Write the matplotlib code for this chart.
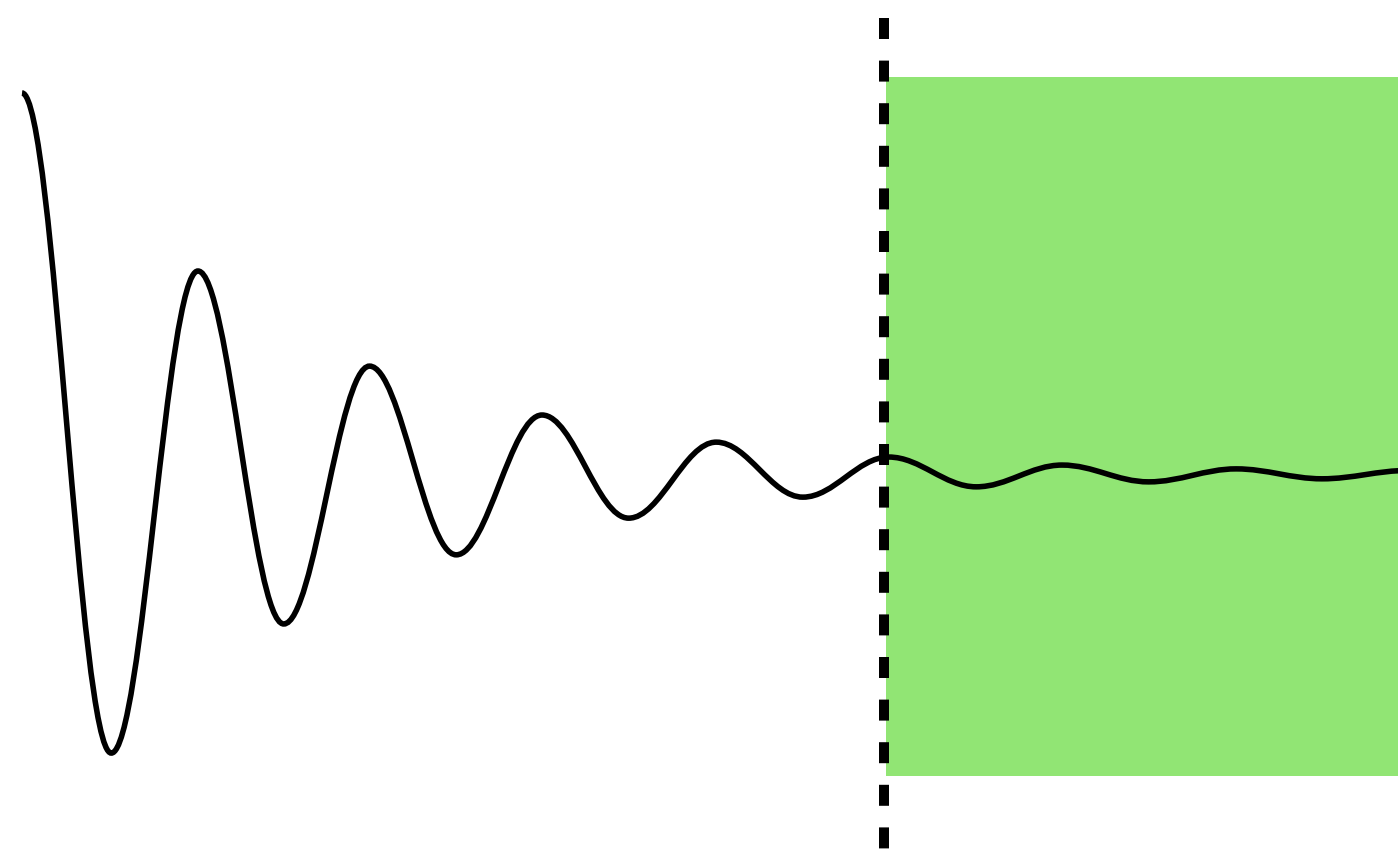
import matplotlib.pyplot as plt
from matplotlib.path import Path
from matplotlib.patches import PathPatch, Rectangle

# extrema of the damped oscillation (time in half-periods, amplitude)
t_ext = [0, 1.03, 2.03, 3.02, 4.01, 5.01, 6.0, 7.0, 8.01, 9.01, 10.0,
         11.01, 12.0, 13.0, 14.01, 15.0, 16.0]
y_ext = [1.00, -0.728, 0.534, -0.390, 0.285, -0.209, 0.157, -0.113,
         0.086, -0.058, 0.047, -0.031, 0.026, -0.018, 0.016, -0.010, 0.012]

t_mark = 9.946          # dashed marker
region_t = [9.969, 16.5]
region_y = [-0.788, 1.042]
mark_y = [1.196, -0.979]

fig = plt.figure(figsize=(13.98, 8.52), dpi=100)
ax = fig.add_axes([0, 0, 1, 1])
ax.set_xlim(-0.254, 15.877)
ax.set_ylim(-0.987, 1.2435)
ax.axis('off')

# green region
ax.add_patch(Rectangle((region_t[0], region_y[0]), region_t[1] - region_t[0],
                       region_y[1] - region_y[0], facecolor='#91e574',
                       edgecolor='none', zorder=1))

# dashed vertical line
ax.plot([t_mark, t_mark], mark_y, color='black', lw=7.2,
        dashes=(2.1, 2.16), solid_capstyle='butt', dash_capstyle='butt', zorder=2)

# smooth curve through the extrema (horizontal tangents at each one)
verts = [(t_ext[0], y_ext[0])]
codes = [Path.MOVETO]
for i in range(len(t_ext) - 1):
    k = 0.3634 * (t_ext[i + 1] - t_ext[i])
    verts += [(t_ext[i] + k, y_ext[i]), (t_ext[i + 1] - k, y_ext[i + 1]),
              (t_ext[i + 1], y_ext[i + 1])]
    codes += [Path.CURVE4] * 3
ax.add_patch(PathPatch(Path(verts, codes), facecolor='none', edgecolor='black',
                       lw=4.0, capstyle='butt', zorder=3))

fig.savefig('out.png', dpi=100)
